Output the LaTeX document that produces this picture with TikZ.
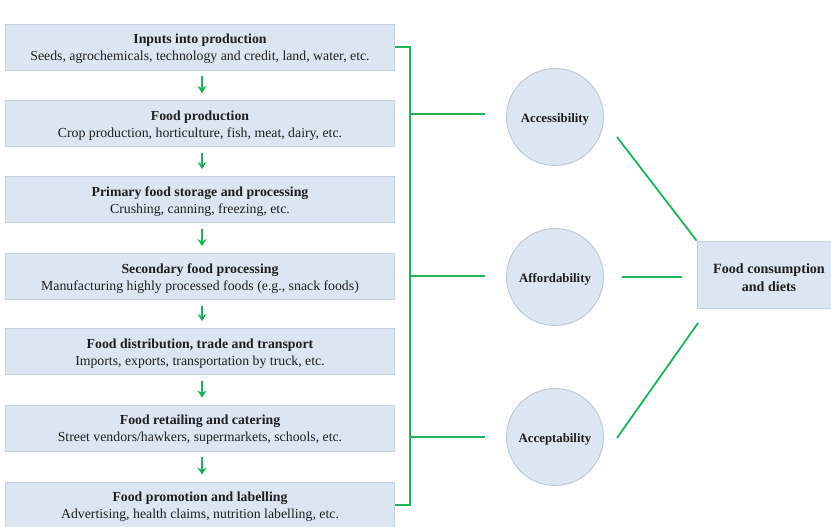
\documentclass[tikz,border=0pt]{standalone}
\usepackage{fontspec}
\setmainfont{Liberation Serif}
\usetikzlibrary{arrows.meta,calc}
\definecolor{boxfill}{HTML}{DCE6F2}
\definecolor{boxline}{HTML}{C3D3E6}
\definecolor{circline}{HTML}{B8C3CF}
\definecolor{grn}{HTML}{1DB358}
\definecolor{txt}{HTML}{1E1E1E}
\newcommand{\tstrut}{\rule{0pt}{13.8pt}}
\newcommand{\cstrut}{\rule{0pt}{13pt}}
\newcommand{\ostrut}{\rule{0pt}{16pt}}
\begin{document}
\begin{tikzpicture}[x=1pt,y=-1pt,
  stagebox/.style={draw=boxline,fill=boxfill,line width=0.8pt,minimum width=389pt,minimum height=46pt,inner sep=0pt,align=center,text=txt,font=\fontsize{13.8}{17}\selectfont},
  factor/.style={circle,draw=circline,fill=boxfill,line width=0.8pt,minimum size=97pt,inner sep=0pt,text=txt,font=\fontsize{12.8}{14}\selectfont\bfseries},
  outbox/.style={draw=boxline,fill=boxfill,line width=0.8pt,minimum width=144pt,minimum height=67pt,inner sep=0pt,align=center,text=txt,font=\fontsize{14.1}{18}\selectfont\bfseries},
  flow/.style={draw=grn,line width=1.8pt,-{Stealth[length=7pt,width=9pt]}},
  link/.style={draw=grn,line width=1.8pt}]
\useasboundingbox (0,0) rectangle (831,527);
\node[stagebox] (s1) at (200,47) {\tstrut\textbf{Inputs into production}\\Seeds, agrochemicals, technology and credit, land, water, etc.};
\node[stagebox] (s2) at (200,123.5) {\tstrut\textbf{Food production}\\Crop production, horticulture, fish, meat, dairy, etc.};
\node[stagebox] (s3) at (200,199.5) {\tstrut\textbf{Primary food storage and processing}\\Crushing, canning, freezing, etc.};
\node[stagebox] (s4) at (200,276.5) {\tstrut\textbf{Secondary food processing}\\Manufacturing highly processed foods (e.g., snack foods)};
\node[stagebox] (s5) at (200,351.5) {\tstrut\textbf{Food distribution, trade and transport}\\Imports, exports, transportation by truck, etc.};
\node[stagebox] (s6) at (200,428) {\tstrut\textbf{Food retailing and catering}\\Street vendors/hawkers, supermarkets, schools, etc.};
\node[stagebox] (s7) at (200,505) {\tstrut\textbf{Food promotion and labelling}\\Advertising, health claims, nutrition labelling, etc.};
\foreach \a/\b in {s1/s2,s2/s3,s3/s4,s4/s5,s5/s6,s6/s7}
  \draw[flow] ([xshift=2pt,yshift=-6pt]\a.south) -- ([xshift=2pt,yshift=7pt]\b.north);
\node[factor] (acc) at (555,117) {\cstrut Accessibility};
\node[factor] (aff) at (555,277) {\cstrut Affordability};
\node[factor] (acp) at (555,437) {\cstrut Acceptability};
\node[outbox] (fc) at (769,274.5) {\ostrut Food consumption\\and diets};
\coordinate (brx) at (410,0);
\draw[link] (s1.east) -- (s1.east -| brx) -- (s7.east -| brx) -- (s7.east);
\coordinate (t1) at (485,114);
\coordinate (t2) at (485,276);
\coordinate (t3) at (485,437);
\draw[link] (brx |- t1) -- (t1);
\draw[link] (brx |- t2) -- (t2);
\draw[link] (brx |- t3) -- (t3);
\coordinate (c1) at (617,137);
\coordinate (c2a) at (622,277);
\coordinate (c2b) at (682,277);
\coordinate (c3) at (617,438);
\coordinate (c3b) at (698,323);
\draw[link] (c1) -- (fc.north west);
\draw[link] (c2a) -- (c2b);
\draw[link] (c3) -- (c3b);
\end{tikzpicture}
\end{document}
